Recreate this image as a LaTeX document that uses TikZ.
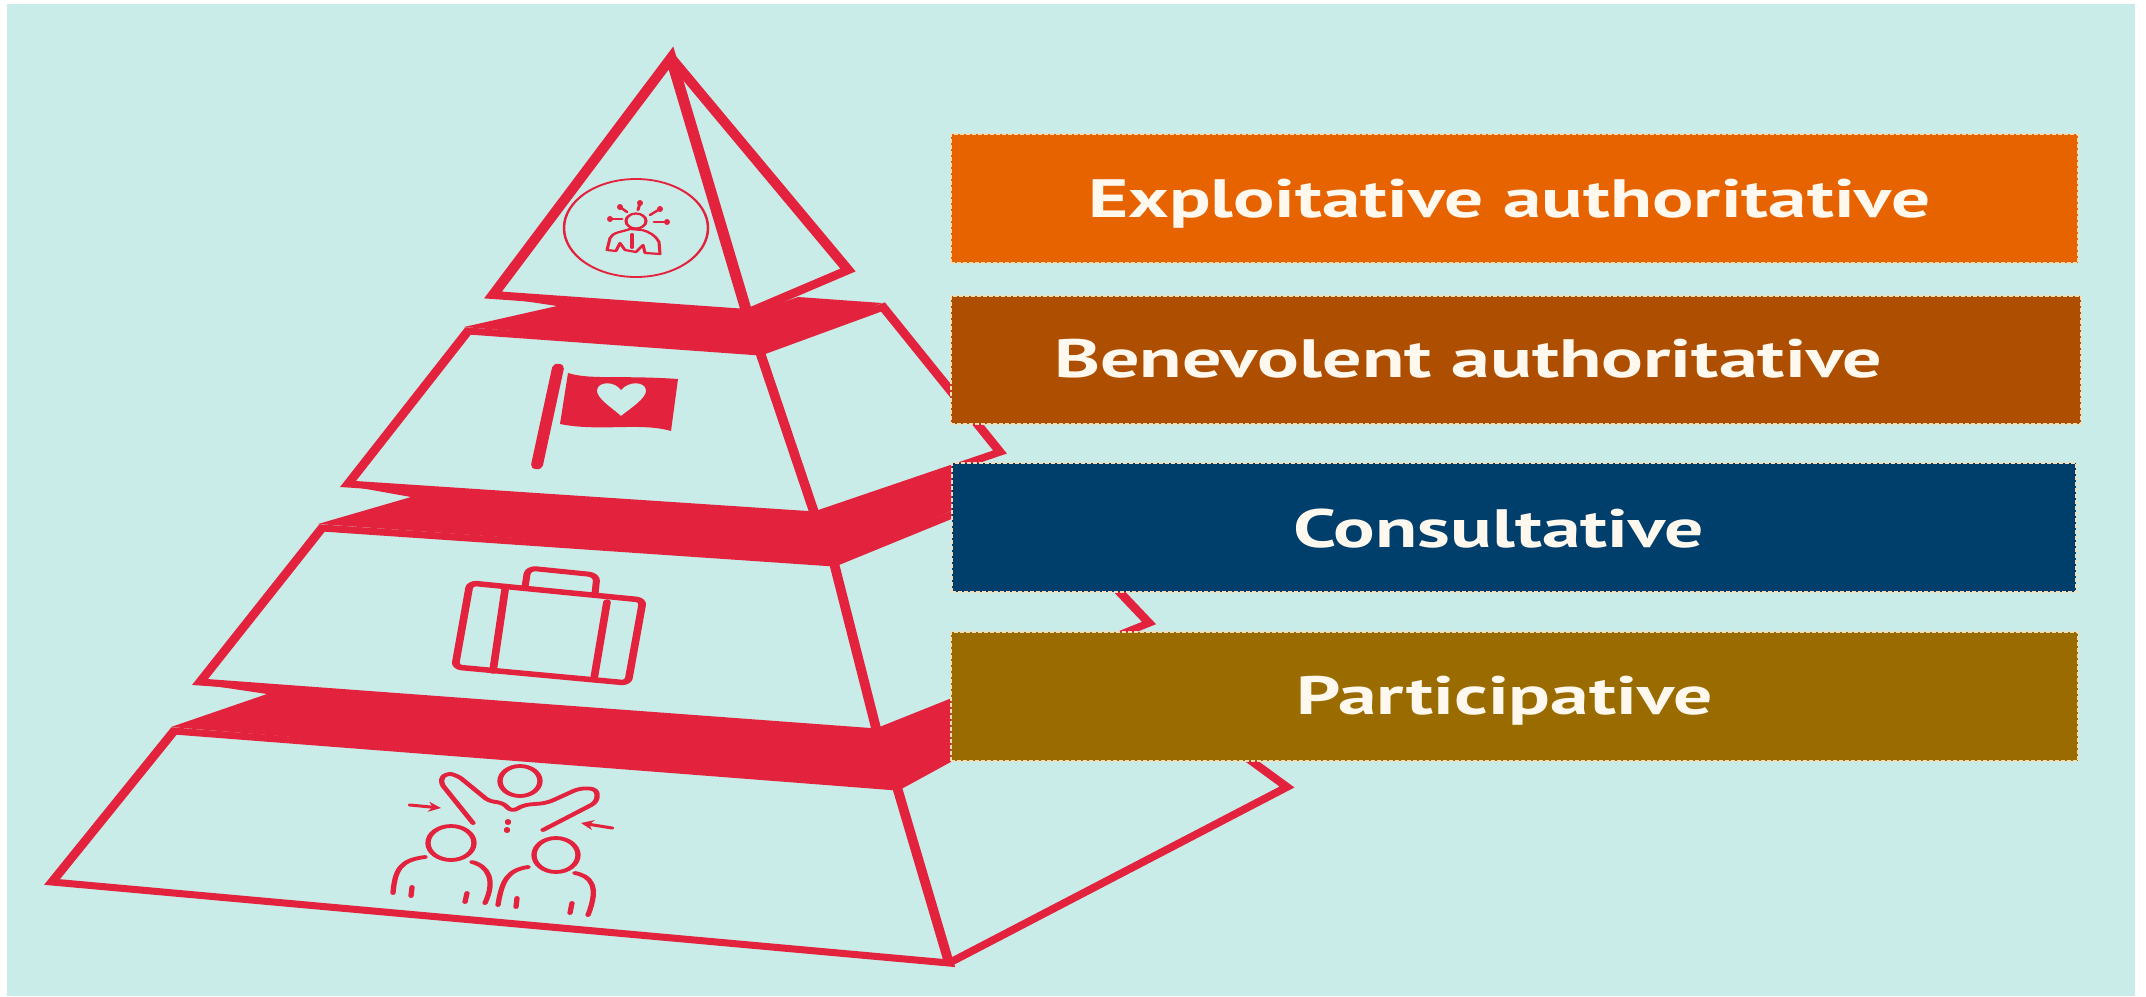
\documentclass[tikz,border=0pt]{standalone}
\usepackage{fontspec}
\usepackage{graphicx}
\setmainfont{PT Sans}
\definecolor{bgc}{HTML}{C9ECE9}
\definecolor{redc}{HTML}{E3233D}
\definecolor{orangec}{HTML}{E66300}
\definecolor{brownc}{HTML}{AE4E00}
\definecolor{bluec}{HTML}{003E6B}
\definecolor{olivec}{HTML}{9A6C00}
\definecolor{creamc}{HTML}{F5DDB8}
\definecolor{textc}{HTML}{FFF8EE}
\usetikzlibrary{arrows.meta}
\tikzset{
  tier/.style={draw=redc,line width=#1,line join=miter,miter limit=20},
  icon/.style={draw=redc,line width=#1,line cap=round,line join=round},
  tag/.style={draw=creamc,line width=1.6pt,dash pattern=on 4pt off 2pt,inner sep=0pt},
  tagtext/.style={anchor=base west,inner sep=0pt,text=textc,font=\fontsize{54}{54}\selectfont\bfseries},
  arr/.style={icon=#1,-{Stealth[length=9pt,width=10pt]}},
}
\newcommand{\wlabel}[2]{\resizebox{#1}{\height}{#2}}
\begin{document}
\begin{tikzpicture}[x=1pt,y=-1pt]
\useasboundingbox (0,0) rectangle (2146,996);
\fill[white] (0,0) rectangle (2146,996);
\fill[bgc] (7,4) rectangle (2135,996);

\begin{scope}[x=0.714286pt,transform canvas={xscale=1.4}]
% tier 4 (bottom)
\draw[tier=7pt] (174,731) -- (897,787) -- (949,963) -- (52,882) -- cycle;
\draw[tier=7pt] (897,787) -- (1120,665) -- (1287,787) -- (949,963);
% tier 3
\draw[tier=7pt] (322,528) -- (834,563) -- (877,732) -- (200,682) -- cycle;
\draw[tier=7pt] (834,563) -- (1020,487) -- (1149,623) -- (877,732);
% tier 2
\draw[tier=7pt] (468,331) -- (760,352) -- (815,515) -- (348,484) -- cycle;
\draw[tier=7pt] (760,352) -- (883,307) -- (1000,452) -- (815,515);
% tier 1
\draw[tier=8pt] (493,295) -- (671,58) -- (747,313) -- cycle;
\draw[tier=8pt] (671,58) -- (848,270) -- (747,313);

% bands
\fill[redc] (464,327) -- (557,306) -- (497,297) -- (747,314) -- (798,297) -- (882,303) -- (768,352) -- (756,351) -- cycle;
\fill[redc] (318,524) -- (411,497) -- (355,487) -- (815,517) -- (960,466) -- (960,507) -- (838,561) -- cycle;
\fill[redc] (171,727) -- (267,694) -- (207,685) -- (877,734) -- (960,702) -- (960,752) -- (898,787) -- cycle;

% apex circle and leader icon
\draw[redc,line width=1.8pt] (636,228) ellipse [x radius=72,y radius=49];
\draw[icon=2.2pt] (636,221) ellipse [x radius=10,y radius=7.5];
\draw[icon=2.2pt] (607,250) -- (610,238) .. controls (613,232) and (622,232) .. (630,229) -- (642,230) .. controls (650,232) and (656,236) .. (659,242) -- (660,254) -- (645,253) -- (643,245) -- (636,252) -- (625,250) -- (620,243) -- (616,251) -- cycle;
\draw[icon=2.2pt] (632,234) -- (632,248);
\draw[icon=2.2pt] (611,219) -- (622,219);
\draw[icon=2.2pt] (620,207) -- (627,212);
\draw[icon=2.2pt] (640,203) -- (638,210);
\draw[icon=2.2pt] (660,209) -- (650,215);
\draw[icon=2.2pt] (667,222) -- (654,222);
\fill[redc] (610,219) circle (3);
\fill[redc] (620,207) circle (3);
\fill[redc] (640,203) circle (3);
\fill[redc] (660,209) circle (3);
\fill[redc] (667,222) circle (3);

% flag icon
\draw[redc,line width=8.5pt,line cap=round] (558,368) -- (537,465);
\fill[redc,even odd rule] (568,373) .. controls (590,380) and (620,375) .. (678,379) -- (671,431)
  .. controls (640,422) and (600,432) .. (560,424) -- cycle
  (621,416) .. controls (612,408) and (596,398) .. (597,390) .. controls (598,381) and (615,381) .. (621,390)
  .. controls (628,381) and (645,381) .. (646,390) .. controls (647,398) and (631,408) .. (621,416) -- cycle;

% suitcase icon
\draw[icon=5.5pt,rounded corners=5pt] (470,583) -- (643,600) -- (628,683) -- (455,667) -- cycle;
\draw[icon=5.5pt] (505,590) -- (493,671);
\draw[icon=5.5pt] (607,602) -- (594,679);
\draw[icon=5pt,rounded corners=6pt] (525,587) -- (528,568) -- (597,575) -- (595,594);

% people icon
\draw[icon=3.8pt] (520,781) ellipse [x radius=20,y radius=15];
\draw[icon=3.8pt,rounded corners=5pt] (473,823) -- (440,782) -- (445,773) -- (457,775) -- (490,802) -- (502,802) -- (512,812) -- (523,805) -- (547,803) -- (580,788) -- (597,789) -- (597,802) -- (543,830);
\draw[icon=3.8pt] (508,821) -- (508,823);
\draw[icon=3.8pt] (507,829) -- (507,831);
\draw[arr=3pt] (410,805) -- (441,808);
\draw[arr=3pt] (612,828) -- (581,823);
\draw[icon=3.8pt] (451,843) ellipse [x radius=23,y radius=17];
\draw[icon=3.8pt] (556,855) ellipse [x radius=22,y radius=17];
\draw[icon=3.8pt] (393,893) .. controls (395,870) and (400,860) .. (425,857);
\draw[icon=3.8pt] (472,862) .. controls (488,866) and (496,880) .. (485,903);
\draw[icon=3.8pt] (412,887) -- (411,896);
\draw[icon=3.8pt] (467,893) -- (465,902);
\draw[icon=3.8pt] (498,905) .. controls (502,880) and (508,870) .. (528,867);
\draw[icon=3.8pt] (575,873) .. controls (590,876) and (600,885) .. (588,915);
\draw[icon=3.8pt] (517,898) -- (516,907);
\draw[icon=3.8pt] (572,903) -- (570,913);
\end{scope}

% tags
\node[tag,fill=orangec,minimum width=1127pt,minimum height=129pt,anchor=north west] (t1) at (950,133) {};
\node[tag,fill=brownc,minimum width=1130pt,minimum height=128pt,anchor=north west] (t2) at (950,295) {};
\node[tag,fill=bluec,minimum width=1124pt,minimum height=129pt,anchor=north west] (t3) at (951,462) {};
\node[tag,fill=olivec,minimum width=1127pt,minimum height=129pt,anchor=north west] (t4) at (950,631) {};
\node[tagtext] (l1) at (1088,217) {\wlabel{842pt}{Exploitative authoritative}};
\node[tagtext] (l2) at (1054,377) {\wlabel{828pt}{Benevolent authoritative}};
\node[tagtext] (l3) at (1293,547) {\wlabel{411pt}{Consultative}};
\node[tagtext] (l4) at (1296,714) {\wlabel{417pt}{Participative}};
\end{tikzpicture}
\end{document}
